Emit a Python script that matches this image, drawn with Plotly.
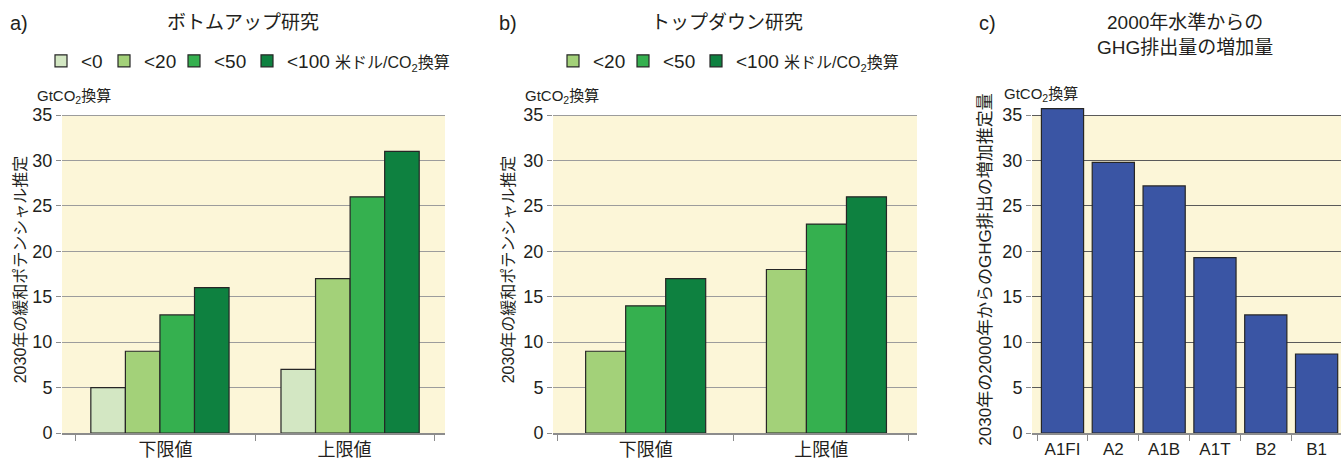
import plotly.graph_objects as go

# ---------------- data ----------------
limit_cats = ["下限値", "上限値"]

price_a = ["&lt;0", "&lt;20", "&lt;50", "&lt;100"]
bottom_up_lt0 = [5, 7]
bottom_up_lt20 = [9, 17]
bottom_up_lt50 = [13, 26]
bottom_up_lt100 = [16, 31]

price_b = ["&lt;20", "&lt;50", "&lt;100"]
top_down_lt20 = [9, 18]
top_down_lt50 = [14, 23]
top_down_lt100 = [17, 26]

scenarios = ["A1FI", "A2", "A1B", "A1T", "B2", "B1"]
ghg_increase = [35.7, 29.8, 27.2, 19.3, 13.0, 8.7]

unit_label = "米ドル/CO<sub>2</sub>換算"
y_unit = "GtCO<sub>2</sub>換算"
y_title_ab = "2030年の緩和ポテンシャル推定"
y_title_c = "2030年の2000年からのGHG排出の増加推定量"
y_ticks = [0, 5, 10, 15, 20, 25, 30, 35]

# ---------------- style ----------------
W, H = 1341, 459
TOP, BOT = 106, 433
FONT = "Liberation Sans, Noto Sans CJK JP, sans-serif"
TXT = "#231f20"
CREAM = "#fcf6d8"
OUTLINE = "#262626"
GREENS_A = ["#d3e7c3", "#a3d179", "#35b04f", "#0e8140"]
GREENS_B = GREENS_A[1:]
BLUE = "#3a55a4"


def px_x(p):
    return p / W


def px_y(p):
    return (BOT - p) / (BOT - TOP)


fig = go.Figure()

unit_span = " <span style='font-size:16px'>" + unit_label + "</span>"

# panel a
series_a = [bottom_up_lt0, bottom_up_lt20, bottom_up_lt50, bottom_up_lt100]
wa = 0.193
shift_a = [-0.031, 0.031]
names_a = price_a[:3] + [price_a[3] + unit_span]
lw_a = [18, 25, 28, 160]
for i, (vals, col) in enumerate(zip(series_a, GREENS_A)):
    fig.add_trace(go.Bar(
        x=limit_cats, y=vals, name=names_a[i], xaxis="x", yaxis="y",
        marker=dict(color=col, line=dict(color=OUTLINE, width=1.2)),
        width=wa, offset=[s - 2 * wa + i * wa for s in shift_a],
        legend="legend", legendwidth=lw_a[i],
    ))

# panel b
series_b = [top_down_lt20, top_down_lt50, top_down_lt100]
wb = 0.228
shift_b = [0.0, 0.03]
names_b = price_b[:2] + [price_b[2] + unit_span]
lw_b = [25, 28, 160]
for i, (vals, col) in enumerate(zip(series_b, GREENS_B)):
    fig.add_trace(go.Bar(
        x=limit_cats, y=vals, name=names_b[i], xaxis="x2", yaxis="y2",
        marker=dict(color=col, line=dict(color=OUTLINE, width=1.2)),
        width=wb, offset=[s - 1.5 * wb + i * wb for s in shift_b],
        legend="legend2", legendwidth=lw_b[i],
    ))

# panel c
fig.add_trace(go.Bar(
    x=scenarios, y=ghg_increase, xaxis="x3", yaxis="y3", showlegend=False,
    marker=dict(color=BLUE, line=dict(color=OUTLINE, width=1.2)),
    width=0.83, offset=-0.415,
))

xcommon = dict(type="category", tickson="boundaries", ticks="outside", ticklen=6,
               tickcolor="#8c8c8c", tickwidth=1.2, showline=True, linecolor="#8c8c8c",
               linewidth=1.5, showgrid=False, zeroline=False,
               tickfont=dict(size=18, color=TXT), fixedrange=True)
ycommon = dict(range=[0, 36], tickvals=y_ticks, ticks="outside", ticklen=5,
               tickcolor="#8c8c8c", tickwidth=1.2, showgrid=True, gridwidth=1.2,
               zeroline=False, showline=False, tickfont=dict(size=18, color=TXT),
               fixedrange=True)

fig.update_layout(
    width=W, height=H,
    margin=dict(l=0, r=0, t=TOP, b=H - BOT, autoexpand=False),
    paper_bgcolor="white", plot_bgcolor="white",
    barmode="overlay",
    font=dict(family=FONT, color=TXT),
    xaxis=dict(xcommon, domain=[px_x(62), px_x(445)], range=[-0.578, 1.561], anchor="y"),
    yaxis=dict(ycommon, anchor="x", gridcolor="#9c9c9c",
               title=dict(text=y_title_ab, font=dict(size=16, color=TXT), standoff=1)),
    xaxis2=dict(xcommon, domain=[px_x(553), px_x(917)], range=[-0.528, 1.546], anchor="y2"),
    yaxis2=dict(ycommon, anchor="x2", gridcolor="#9c9c9c",
                title=dict(text=y_title_ab, font=dict(size=16, color=TXT), standoff=4)),
    xaxis3=dict(xcommon, domain=[px_x(1032), 1.0], range=[-0.6, 5.48], anchor="y3",
                tickfont=dict(size=17, color=TXT)),
    yaxis3=dict(ycommon, anchor="x3", gridcolor="#5a5a5a",
                title=dict(text=y_title_c, font=dict(size=17, color=TXT), standoff=6)),
    legend=dict(orientation="h", x=px_x(41), xanchor="left", y=px_y(61), yanchor="middle",
                font=dict(size=19, color=TXT), bgcolor="rgba(0,0,0,0)", traceorder="normal",
                entrywidthmode="pixels"),
    legend2=dict(orientation="h", x=px_x(553), xanchor="left", y=px_y(61), yanchor="middle",
                 font=dict(size=19, color=TXT), bgcolor="rgba(0,0,0,0)", traceorder="normal",
                 entrywidthmode="pixels"),
    showlegend=True,
)

# cream plot backgrounds (0..35)
for xr, yr in [("x", "y"), ("x2", "y2"), ("x3", "y3")]:
    fig.add_shape(type="rect", xref=f"{xr} domain", x0=0, x1=1, yref=yr, y0=0, y1=35,
                  fillcolor=CREAM, line=dict(width=0), layer="below")

# titles and unit labels
ann = [
    dict(text="a)", x=px_x(8), xanchor="left", y=px_y(23), size=20),
    dict(text="ボトムアップ研究", x=px_x(243), xanchor="center", y=px_y(23), size=19),
    dict(text="b)", x=px_x(497), xanchor="left", y=px_y(23), size=20),
    dict(text="トップダウン研究", x=px_x(727), xanchor="center", y=px_y(23), size=19),
    dict(text="c)", x=px_x(977), xanchor="left", y=px_y(23), size=20),
    dict(text="2000年水準からの<br>GHG排出量の増加量", x=px_x(1185), xanchor="center",
         y=px_y(35), size=19),
    dict(text=y_unit, x=px_x(35), xanchor="left", y=px_y(96), size=15),
    dict(text=y_unit, x=px_x(523), xanchor="left", y=px_y(96), size=15),
    dict(text=y_unit, x=px_x(1002), xanchor="left", y=px_y(95), size=15),
]
for a in ann:
    fig.add_annotation(text=a["text"], x=a["x"], xref="paper", xanchor=a["xanchor"],
                       y=a["y"], yref="paper", yanchor="middle", showarrow=False,
                       font=dict(size=a["size"], color=TXT, family=FONT))

fig.write_html("out.html", config={"displayModeBar": False},
               post_script="document.body.style.margin='0';document.body.style.overflow='hidden';")
